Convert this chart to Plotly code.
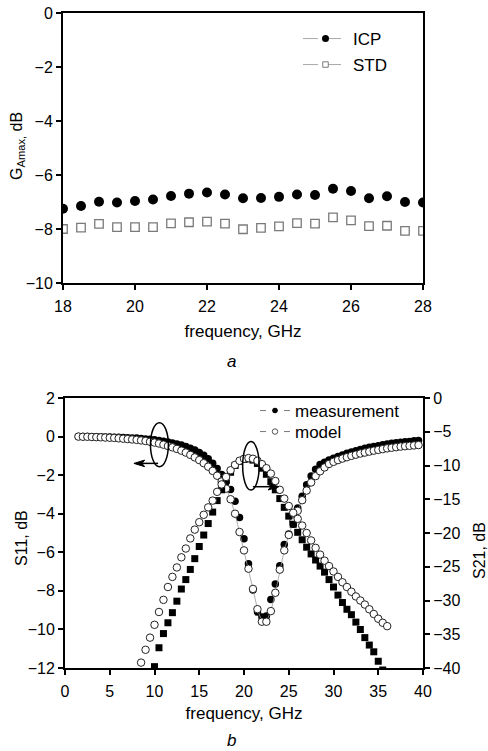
import plotly.graph_objects as go

# ---------------- panel a data ----------------
freq_a = [18.0, 18.5, 19.0, 19.5, 20.0, 20.5, 21.0, 21.5, 22.0, 22.5, 23.0,
          23.5, 24.0, 24.5, 25.0, 25.5, 26.0, 26.5, 27.0, 27.5, 28.0]
icp = [-7.25, -7.15, -6.99, -7.02, -6.96, -6.91, -6.78, -6.69, -6.65, -6.72, -6.86,
       -6.85, -6.81, -6.72, -6.74, -6.51, -6.59, -6.86, -6.79, -7.00, -7.02]
std = [-8.00, -7.95, -7.81, -7.93, -7.93, -7.93, -7.79, -7.75, -7.73, -7.80, -8.01,
       -7.96, -7.90, -7.78, -7.80, -7.57, -7.68, -7.89, -7.88, -8.07, -8.07]

# ---------------- panel b data ----------------
freq_s11 = [1.5, 2.0, 2.5, 3.0, 3.5, 4.0, 4.5, 5.0, 5.5, 6.0, 6.5, 7.0, 7.5, 8.0, 8.5, 9.0,
            9.5, 10.0, 10.5, 11.0, 11.5, 12.0, 12.5, 13.0, 13.5, 14.0, 14.5, 15.0, 15.5,
            16.0, 16.5, 17.0, 17.5, 18.0, 18.5, 19.0, 19.5, 20.0, 20.5, 21.0, 21.5, 22.0,
            22.5, 23.0, 23.5, 24.0, 24.5, 25.0, 25.5, 26.0, 26.5, 27.0, 27.5, 28.0, 28.5,
            29.0, 29.5, 30.0, 30.5, 31.0, 31.5, 32.0, 32.5, 33.0, 33.5, 34.0, 34.5, 35.0,
            35.5, 36.0, 36.5, 37.0, 37.5, 38.0, 38.5, 39.0, 39.5]
s11_model = [0.00, -0.01, -0.01, -0.02, -0.03, -0.04, -0.05, -0.06, -0.07, -0.09, -0.11,
             -0.13, -0.15, -0.17, -0.20, -0.23, -0.27, -0.31, -0.36, -0.42, -0.49, -0.56,
             -0.64, -0.73, -0.83, -0.95, -1.08, -1.22, -1.38, -1.56, -1.78, -2.03, -2.33,
             -2.70, -3.25, -4.00, -4.95, -5.90, -6.85, -7.90, -8.95, -9.60, -9.60, -9.05,
             -8.10, -6.90, -5.90, -5.10, -4.40, -3.85, -3.30, -2.80, -2.38, -2.05, -1.80,
             -1.60, -1.42, -1.31, -1.22, -1.14, -1.07, -1.00, -0.94, -0.88, -0.83, -0.78,
             -0.73, -0.69, -0.65, -0.61, -0.58, -0.55, -0.52, -0.50, -0.48, -0.46, -0.44]
s11_meas = [0.00, 0.00, 0.00, -0.01, -0.01, -0.01, -0.02, -0.02, -0.03, -0.04, -0.05,
            -0.06, -0.07, -0.08, -0.10, -0.12, -0.14, -0.17, -0.20, -0.24, -0.28, -0.33,
            -0.38, -0.44, -0.51, -0.60, -0.70, -0.82, -0.97, -1.15, -1.38, -1.65, -1.97,
            -2.35, -2.75, -3.35, -4.20, -5.30, -6.60, -7.95, -9.10, -9.35, -9.30, -8.45,
            -7.65, -6.70, -5.60, -5.05, -4.55, -3.70, -3.10, -2.50, -2.05, -1.70, -1.45,
            -1.33, -1.22, -1.12, -1.03, -0.95, -0.87, -0.80, -0.73, -0.67, -0.61, -0.56,
            -0.51, -0.47, -0.43, -0.39, -0.35, -0.32, -0.29, -0.27, -0.25, -0.22, -0.20]

freq_s21_model = [8.5, 9.0, 9.5, 10.0, 10.5, 11.0, 11.5, 12.0, 12.5, 13.0, 13.5, 14.0,
                  14.5, 15.0, 15.5, 16.0, 16.5, 17.0, 17.5, 18.0, 18.5, 19.0, 19.5, 20.0,
                  20.5, 21.0, 21.5, 22.0, 22.5, 23.0, 23.5, 24.0, 24.5, 25.0, 25.5, 26.0,
                  26.5, 27.0, 27.5, 28.0, 28.5, 29.0, 29.5, 30.0, 30.5, 31.0, 31.5, 32.0,
                  32.5, 33.0, 33.5, 34.0, 34.5, 35.0, 35.5, 36.0]
s21_model = [-39.2, -37.3, -35.5, -33.6, -31.7, -29.9, -28.0, -26.5, -25.1, -23.6, -22.3,
             -20.8, -19.5, -18.4, -17.3, -16.2, -15.2, -13.9, -12.8, -11.7, -10.7, -9.9,
             -9.3, -9.0, -8.9, -9.0, -9.3, -9.8, -10.4, -11.2, -12.3, -13.6, -14.9, -16.0,
             -17.0, -17.9, -18.9, -20.0, -21.1, -22.2, -23.2, -24.1, -24.9, -25.7, -26.5,
             -27.3, -28.0, -28.7, -29.4, -30.0, -30.6, -31.3, -32.0, -32.7, -33.3, -33.8]

freq_s21_meas = [10.0, 10.5, 11.0, 11.5, 12.0, 12.5, 13.0, 13.5, 14.0, 14.5, 15.0, 15.5,
                 16.0, 16.5, 17.0, 17.5, 18.0, 18.5, 19.0, 19.5, 20.0, 20.5, 21.0, 21.5,
                 22.0, 22.5, 23.0, 23.5, 24.0, 24.5, 25.0, 25.5, 26.0, 26.5, 27.0, 27.5,
                 28.0, 28.5, 29.0, 29.5, 30.0, 30.5, 31.0, 31.5, 32.0, 32.5, 33.0, 33.5,
                 34.0, 34.5, 35.0, 35.5]
s21_meas = [-39.8, -37.0, -34.9, -33.3, -31.8, -30.1, -28.3, -26.9, -25.4, -23.8, -22.0,
            -20.3, -18.6, -16.9, -15.2, -13.6, -12.2, -11.0, -10.0, -9.4, -9.1, -9.0,
            -9.2, -9.7, -10.4, -11.3, -12.4, -13.6, -14.9, -16.2, -17.5, -18.7, -19.9,
            -21.0, -22.1, -23.1, -24.0, -24.9, -25.8, -26.9, -28.0, -29.2, -30.3, -31.3,
            -32.1, -33.2, -34.3, -35.5, -36.6, -37.6, -39.0, -40.3]

ticks_a_x = [18, 20, 22, 24, 26, 28]
ticks_a_y = [0, -2, -4, -6, -8, -10]
ticks_b_x = [0, 5, 10, 15, 20, 25, 30, 35, 40]
ticks_b_y = [2, 0, -2, -4, -6, -8, -10, -12]
ticks_b_y2 = [0, -5, -10, -15, -20, -25, -30, -35, -40]

W, H = 488, 751
FONT = "Liberation Sans, Arial, Helvetica, sans-serif"
LEG_LINE = "#a8a8a8"

fig = go.Figure()

# ---- panel a ----
fig.add_trace(go.Scatter(x=freq_a, y=icp, mode="markers", showlegend=False,
                         marker=dict(symbol="circle", size=10, color="black"),
                         xaxis="x", yaxis="y"))
fig.add_trace(go.Scatter(x=freq_a, y=std, mode="markers", showlegend=False,
                         marker=dict(symbol="square", size=8.5, color="white",
                                     line=dict(color="#7a7a7a", width=1.3)),
                         xaxis="x", yaxis="y"))
fig.add_trace(go.Scatter(x=[None], y=[None], mode="lines+markers", name="ICP",
                         legend="legend",
                         line=dict(color=LEG_LINE, width=1, dash="15px,8px"),
                         marker=dict(symbol="circle", size=7, color="black"),
                         xaxis="x", yaxis="y"))
fig.add_trace(go.Scatter(x=[None], y=[None], mode="lines+markers", name="STD",
                         legend="legend2",
                         line=dict(color=LEG_LINE, width=1, dash="15px,8px"),
                         marker=dict(symbol="square", size=5.5, color="white",
                                     line=dict(color="#7a7a7a", width=1)),
                         xaxis="x", yaxis="y"))

# ---- panel b ----
fig.add_trace(go.Scatter(x=freq_s11, y=s11_meas, mode="markers", showlegend=False,
                         marker=dict(symbol="circle", size=7.5, color="black"),
                         xaxis="x2", yaxis="y2"))
fig.add_trace(go.Scatter(x=freq_s11, y=s11_model, mode="lines+markers", showlegend=False,
                         line=dict(color="#999999", width=0.8),
                         marker=dict(symbol="circle", size=7.5, color="white",
                                     line=dict(color="#222222", width=1)),
                         xaxis="x2", yaxis="y2"))
fig.add_trace(go.Scatter(x=freq_s21_meas, y=s21_meas, mode="markers", showlegend=False,
                         marker=dict(symbol="square", size=7, color="black"),
                         xaxis="x2", yaxis="y3"))
fig.add_trace(go.Scatter(x=freq_s21_model, y=s21_model, mode="markers", showlegend=False,
                         marker=dict(symbol="circle", size=7.5, color="white",
                                     line=dict(color="#222222", width=1)),
                         xaxis="x2", yaxis="y3"))
fig.add_trace(go.Scatter(x=[None], y=[None], mode="lines+markers", name="measurement",
                         legend="legend3",
                         line=dict(color="#777777", width=1, dash="6px,6px"),
                         marker=dict(symbol="circle", size=5.5, color="black"),
                         xaxis="x2", yaxis="y2"))
fig.add_trace(go.Scatter(x=[None], y=[None], mode="lines+markers", name="model",
                         legend="legend4",
                         line=dict(color="#777777", width=1, dash="6px,6px"),
                         marker=dict(symbol="circle", size=5.5, color="white",
                                     line=dict(color="#555555", width=1)),
                         xaxis="x2", yaxis="y2"))

axis_common = dict(showline=True, linewidth=2, linecolor="black", mirror=True,
                   ticks="outside", ticklen=5, tickwidth=1.5, tickcolor="black",
                   showgrid=False, zeroline=False, automargin=False,
                   tickfont=dict(size=16, color="black", family=FONT))
title_font = dict(size=17, color="black", family=FONT)
ytitle_font = dict(size=16, color="black", family=FONT)


def px_x(px):
    return px / W


def py(px):
    return 1 - px / H


leg_common = dict(xanchor="left", yanchor="middle", bgcolor="rgba(0,0,0,0)",
                  font=dict(size=17, family=FONT, color="black"))

fig.update_layout(
    width=W, height=H, margin=dict(l=0, r=0, t=0, b=0, autoexpand=False),
    paper_bgcolor="white", plot_bgcolor="white",
    font=dict(family=FONT, color="black"),
    xaxis=dict(axis_common, domain=[px_x(63), px_x(423)], range=[18, 28], anchor="y",
               tickvals=ticks_a_x, ticklabelstandoff=3,
               title=dict(text="frequency, GHz", font=title_font, standoff=11)),
    yaxis=dict(axis_common, domain=[py(283), py(13)], range=[-10, 0], anchor="x",
               tickvals=ticks_a_y),
    xaxis2=dict(axis_common, domain=[px_x(65), px_x(423)], range=[0, 40], anchor="y2",
                tickvals=ticks_b_x, ticklabelstandoff=3,
                title=dict(text="frequency, GHz", font=title_font, standoff=8)),
    yaxis2=dict(axis_common, domain=[py(668), py(398)], range=[-12, 2], anchor="x2",
                tickvals=ticks_b_y),
    yaxis3=dict(axis_common, overlaying="y2", side="right", range=[-40, 0], anchor="x2",
                tickvals=ticks_b_y2, mirror=False),
    legend=dict(leg_common, x=px_x(298), y=py(39), itemwidth=45),
    legend2=dict(leg_common, x=px_x(298), y=py(65), itemwidth=45),
    legend3=dict(leg_common, x=px_x(255), y=py(411), itemwidth=30),
    legend4=dict(leg_common, x=px_x(255), y=py(432), itemwidth=30),
)

# y-axis titles, placed where the reference has them
fig.add_annotation(text="G<sub>Amax,</sub> dB", xref="paper", yref="paper",
                   x=px_x(17), y=py(146), textangle=-90, showarrow=False,
                   xanchor="center", yanchor="middle", font=ytitle_font)
fig.add_annotation(text="S11, dB", xref="paper", yref="paper",
                   x=px_x(21), y=py(538), textangle=-90, showarrow=False,
                   xanchor="center", yanchor="middle", font=ytitle_font)
fig.add_annotation(text="S21, dB", xref="paper", yref="paper",
                   x=px_x(479), y=py(551), textangle=-90, showarrow=False,
                   xanchor="center", yanchor="middle", font=ytitle_font)

# panel labels
fig.add_annotation(text="<i>a</i>", xref="paper", yref="paper", x=px_x(231), y=py(361),
                   showarrow=False, xanchor="center", yanchor="middle",
                   font=dict(size=17, family=FONT, color="black"))
fig.add_annotation(text="<i>b</i>", xref="paper", yref="paper", x=px_x(231), y=py(740),
                   showarrow=False, xanchor="center", yanchor="middle",
                   font=dict(size=17, family=FONT, color="black"))

# ellipses marking curves and arrows pointing to their axes
fig.add_shape(type="circle", xref="x2", yref="y2", x0=9.55, x1=11.55, y0=-1.56, y1=0.72,
              line=dict(color="black", width=1.5))
fig.add_shape(type="circle", xref="x2", yref="y2", x0=19.85, x1=21.7, y0=-2.77, y1=-0.26,
              line=dict(color="black", width=1.5))
# left arrow (S11 -> left axis)
fig.add_shape(type="line", xref="x2", yref="y2", x0=8.4, x1=10.4, y0=-1.39, y1=-1.39,
              line=dict(color="black", width=1.5))
fig.add_shape(type="path", xref="x2", yref="y2",
              path="M 7.7,-1.39 L 8.9,-1.22 L 8.6,-1.39 L 8.9,-1.56 Z",
              fillcolor="black", line=dict(color="black", width=1))
# right arrow (S21 -> right axis)
fig.add_shape(type="line", xref="x2", yref="y2", x0=21.0, x1=23.2, y0=-2.6, y1=-2.6,
              line=dict(color="black", width=1.5))
fig.add_shape(type="path", xref="x2", yref="y2",
              path="M 23.9,-2.6 L 22.7,-2.43 L 23.0,-2.6 L 22.7,-2.77 Z",
              fillcolor="black", line=dict(color="black", width=1))

# the page's default 8px body margin would push the figure off the 488x751 window
fig.write_html("out.html", config={"displayModeBar": False},
               post_script="document.body.style.margin='0';")
